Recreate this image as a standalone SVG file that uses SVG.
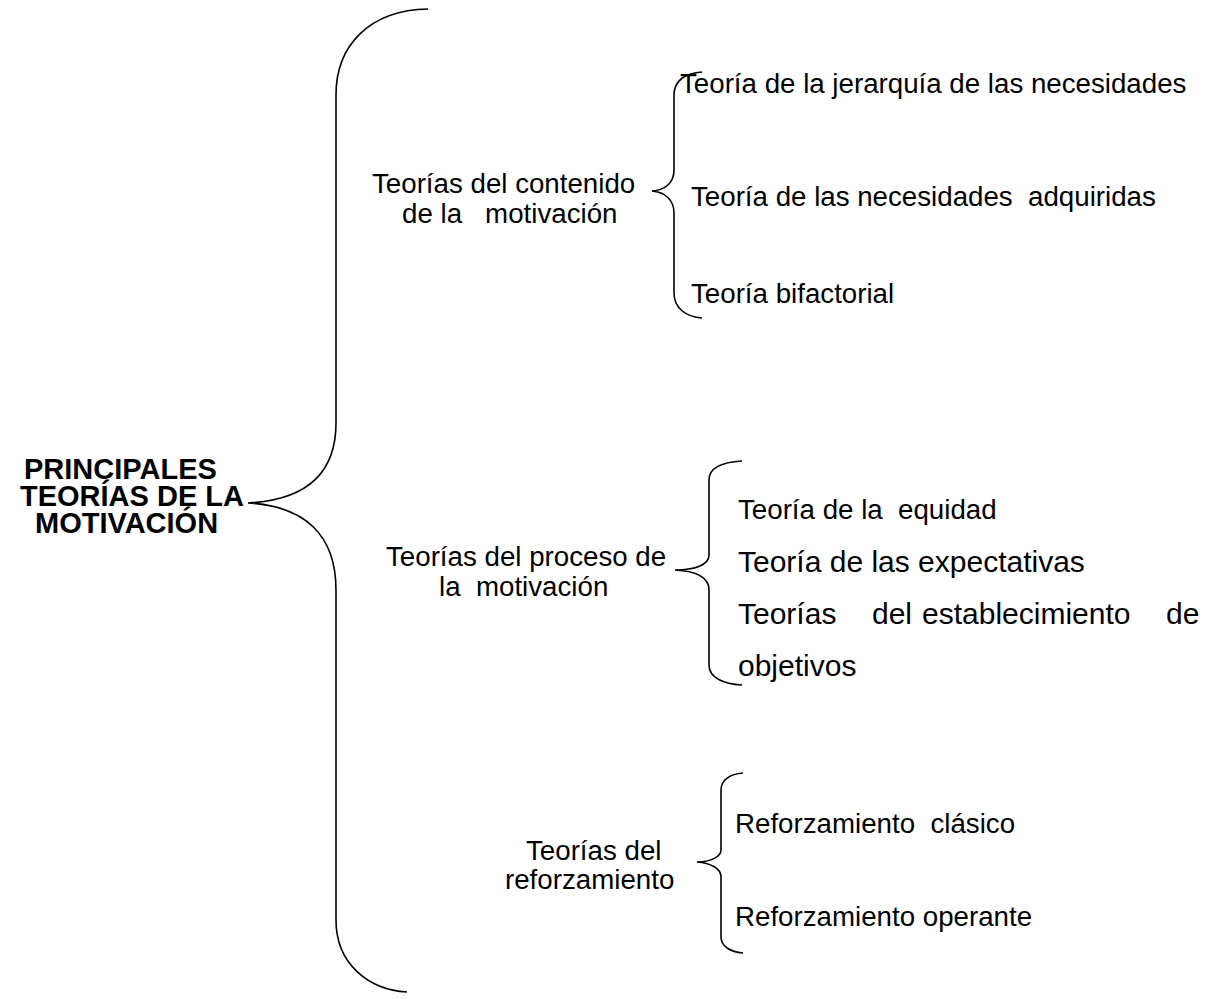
<svg xmlns="http://www.w3.org/2000/svg" width="1206" height="999" viewBox="0 0 1206 999">
<style>
.br{fill:none;stroke:#000;stroke-width:1.6}
.t{font-family:"Liberation Sans",Arial,sans-serif;font-size:27.7px;fill:#000}
.t2{font-family:"Liberation Sans",Arial,sans-serif;font-size:30px;fill:#000}
.h{font-family:"Liberation Sans",Arial,sans-serif;font-size:29px;font-weight:bold;fill:#000}
</style>
<rect width="1206" height="999" fill="#fff"/>
<g id="connectors">
<path class="br" d="M428 9 C370 10 336 45 336 95 L336 423 C336 475 305 500 248 503 C305 506 336 535 336 590 L336 920 C336 965 370 990 407 992"/>
<path class="br" d="M702 72 C686 73 674 80 674 95 L674 170 C674 183 665 190 652 191 C665 192 674 200 674 213 L674 293 C674 308 686 317 702 318"/>
<path class="br" d="M742 461 C724 462 709 467 709 480 L709 555 C709 565 695 570 675 570 C695 571 709 577 709 590 L709 665 C709 678 724 684 742 685"/>
<path class="br" d="M743 773 C730 774 721 780 721 790 L721 850 C721 857 710 862 697 862 C710 863 721 868 721 877 L721 937 C721 946 730 952 743 953"/>
</g>
<g id="root">
<text class="h" x="24" y="479">PRINCIPALES</text>
<text class="h" x="20" y="506">TEORÍAS DE LA</text>
<text class="h" x="35" y="533">MOTIVACIÓN</text>
</g>
<g id="contenido">
<text class="t" x="372" y="193">Teorías del contenido</text>
<text class="t" x="402" y="223" xml:space="preserve">de la   motivación</text>
</g>
<g id="proceso">
<text class="t" x="386" y="566">Teorías del proceso de</text>
<text class="t" x="439" y="596" xml:space="preserve">la  motivación</text>
</g>
<g id="reforzamiento">
<text class="t" x="526" y="860">Teorías del</text>
<text class="t" x="505" y="889">reforzamiento</text>
</g>
<g id="jerarquia"><text class="t" x="680" y="93">Teoría de la jerarquía de las necesidades</text></g>
<g id="adquiridas"><text class="t" x="691" y="206" xml:space="preserve">Teoría de las necesidades  adquiridas</text></g>
<g id="bifactorial"><text class="t" x="691" y="303">Teoría bifactorial</text></g>
<g id="equidad"><text class="t" x="738" y="519" xml:space="preserve">Teoría de la  equidad</text></g>
<g id="expectativas"><text class="t2" x="738" y="572">Teoría de las expectativas</text></g>
<g id="objetivos">
<text class="t2" x="738" y="624">Teorías</text>
<text class="t2" x="872" y="624">del</text>
<text class="t2" x="922" y="624">establecimiento</text>
<text class="t2" x="1166" y="624">de</text>
<text class="t2" x="738" y="676">objetivos</text>
</g>
<g id="clasico"><text class="t" x="735" y="833" xml:space="preserve">Reforzamiento  clásico</text></g>
<g id="operante"><text class="t" x="735" y="926">Reforzamiento operante</text></g>
</svg>
